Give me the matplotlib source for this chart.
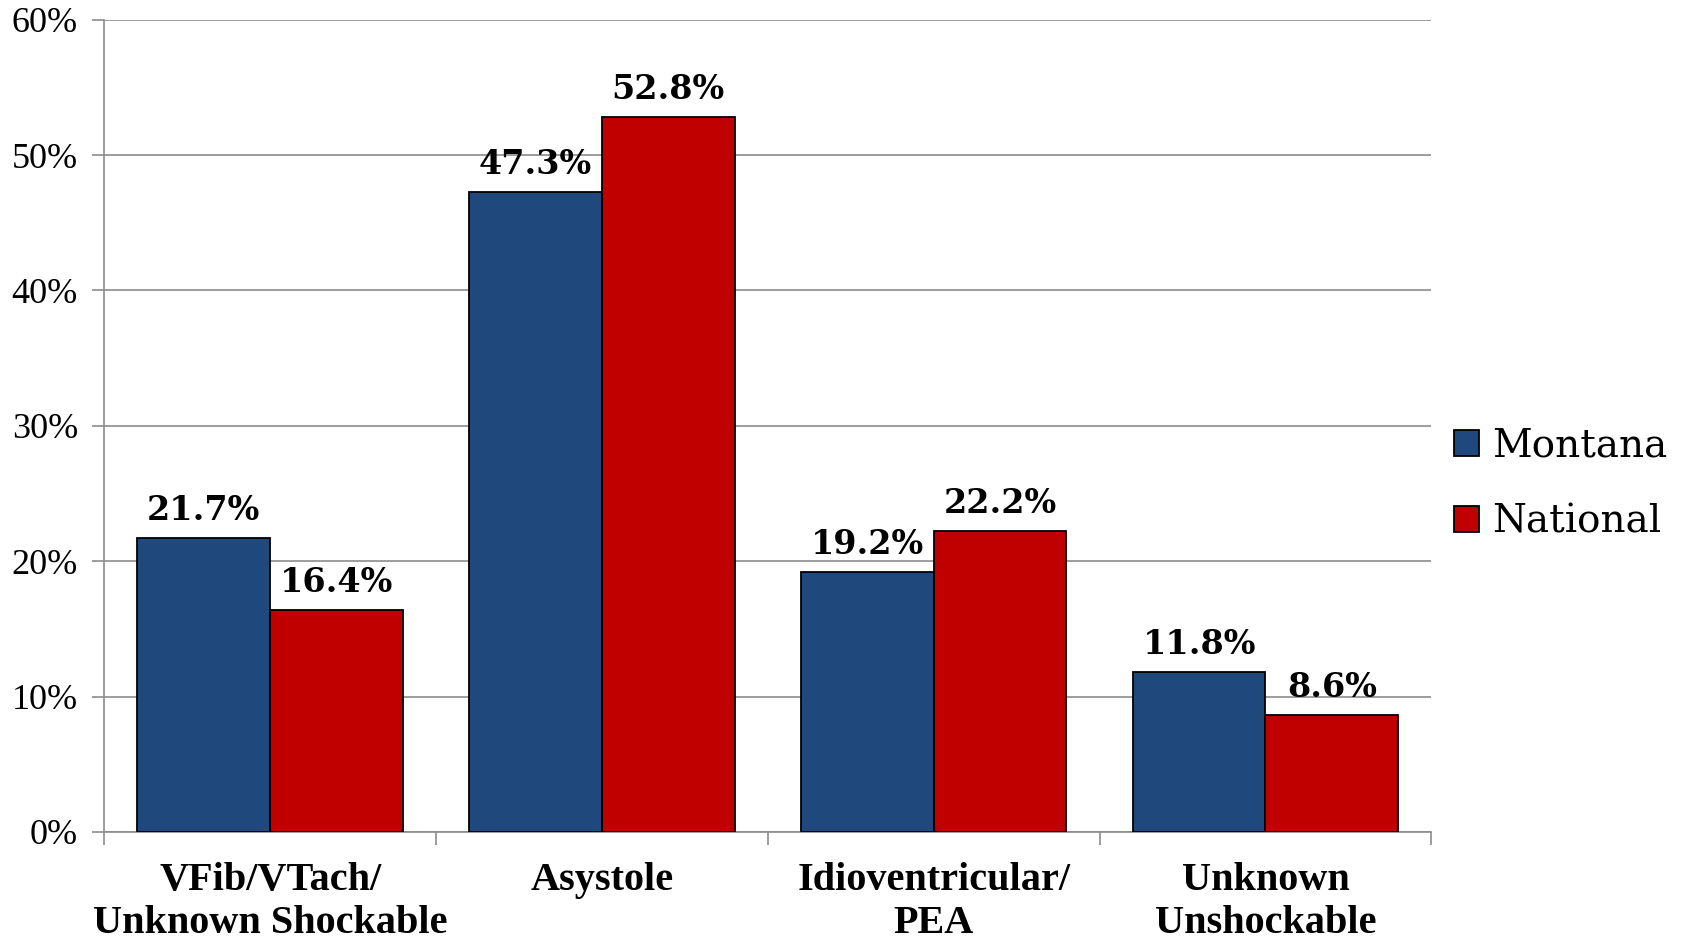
import numpy as np
import matplotlib.pyplot as plt
from matplotlib.ticker import FixedLocator, PercentFormatter

# Data
categories = ['VFib/VTach/\nUnknown Shockable', 'Asystole',
              'Idioventricular/\nPEA', 'Unknown\nUnshockable']
montana = [21.7, 47.3, 19.2, 11.8]
national = [16.4, 52.8, 22.2, 8.6]
series_names = ['Montana', 'National']
colors = ['#1F497D', '#C00000']

fig = plt.figure(figsize=(16.82, 9.40), dpi=100)
ax = fig.add_axes([0.062, 0.115, 0.789, 0.864])

x = np.arange(len(categories))
w = 0.4
bars1 = ax.bar(x - w / 2, montana, w, color=colors[0], edgecolor='black',
               linewidth=1.3, label=series_names[0], zorder=3)
bars2 = ax.bar(x + w / 2, national, w, color=colors[1], edgecolor='black',
               linewidth=1.3, label=series_names[1], zorder=3)

# value labels above every bar
for bars, vals in ((bars1, montana), (bars2, national)):
    for b, v in zip(bars, vals):
        ax.annotate('%.1f%%' % v, xy=(b.get_x() + b.get_width() / 2, v),
                    xytext=(0, 13), textcoords='offset points',
                    ha='center', va='baseline', fontsize=24,
                    fontweight='bold', family='DejaVu Serif', zorder=4)

ax.set_xlim(-0.5, len(categories) - 0.5)
ax.set_ylim(0, 60)
ax.yaxis.set_major_locator(FixedLocator(np.arange(0, 61, 10)))
ax.yaxis.set_major_formatter(PercentFormatter(decimals=0))
ax.grid(axis='y', color='#8c8c8c', linewidth=1.2, zorder=0)
ax.set_axisbelow(True)

# ticks at category boundaries, labels at centers
ax.set_xticks(np.arange(-0.5, len(categories), 1.0))
ax.set_xticklabels([])
ax.set_xticks(x, minor=True)
ax.set_xticklabels(categories, minor=True, fontsize=29, fontweight='bold',
                   family='Liberation Serif', linespacing=1.2)
ax.tick_params(axis='x', which='major', length=9, width=1.2, color='#8c8c8c',
               direction='out')
ax.tick_params(axis='x', which='minor', length=0, pad=22)
ax.tick_params(axis='y', length=9, width=1.2, color='#8c8c8c', pad=10,
               labelsize=26)
for lab in ax.get_yticklabels():
    lab.set_family('Liberation Serif')

for s in ('top', 'right'):
    ax.spines[s].set_visible(False)
for s in ('left', 'bottom'):
    ax.spines[s].set_color('#8c8c8c')
    ax.spines[s].set_linewidth(1.2)

fig.legend(handles=[bars1, bars2], labels=series_names, loc='center left',
           bbox_to_anchor=(0.848, 0.485), frameon=False,
           prop={'family': 'DejaVu Serif', 'size': 28},
           handlelength=0.65, handleheight=0.65, handletextpad=0.35,
           labelspacing=1.0, borderpad=0.2)

fig.savefig('out.png', dpi=100)
